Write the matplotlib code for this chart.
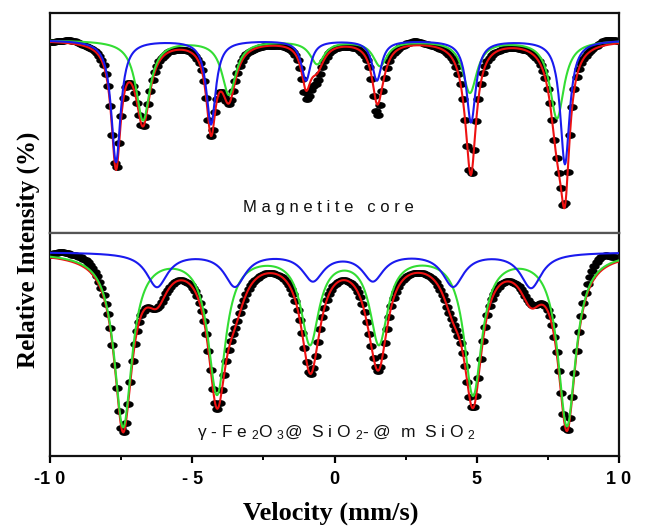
import numpy as np
import matplotlib
matplotlib.use('Agg')
import matplotlib.pyplot as plt

plt.rcParams['mathtext.fontset'] = 'custom'
plt.rcParams['mathtext.rm'] = 'Liberation Sans'
plt.rcParams['mathtext.it'] = 'Liberation Sans'
plt.rcParams['mathtext.bf'] = 'Liberation Sans:bold'

# ---------------- data (velocity mm/s, absorption depth %, HWHM mm/s) -------------
# Top panel: Magnetite core
top_blue_pos = [-7.68, -4.34, -1.00, 1.49, 4.80, 8.10]
top_blue_depth = [12.2, 8.4, 4.0, 4.0, 8.2, 12.4]
top_blue_hwhm = 0.20
top_green_pos = [-6.73, -3.71, -0.61, 1.60, 4.76, 7.82]
top_green_depth = [8.0, 5.4, 2.3, 2.5, 5.2, 7.8]
top_green_hwhm = 0.30
# measured-data deviations from the fit (centre, amplitude %, width)
top_dev_pos = [-9.3, -0.8, 1.5, 2.8, 9.6]
top_dev_amp = [0.3, -1.0, -1.1, 0.4, 0.5]
top_dev_w = [0.3, 0.25, 0.15, 0.3, 0.3]

# Bottom panel: gamma-Fe2O3@SiO2-@mSiO2
bot_green_pos = [-7.43, -4.13, -0.86, 1.56, 4.87, 8.17]
bot_green_depth = [17.3, 13.9, 8.8, 8.8, 14.0, 17.2]
bot_green_hwhm = 0.38
bot_blue_pos = [-6.24, -3.50, -0.76, 1.35, 4.17, 6.91]
bot_blue_depth = [3.4, 3.3, 2.7, 2.7, 3.3, 3.5]
bot_blue_hwhm = 0.45
bot_dev_pos = [-9.6, -8.8, 6.8, 9.3]
bot_dev_amp = [0.6, 0.8, 0.4, 1.4]
bot_dev_w = [0.3, 0.4, 0.3, 0.4]

baseline = 100.0
xticks = [-10, -5, 0, 5, 10]
xticklabels = ['-1 0', '- 5', '0', '5', '1 0']
x_label = 'Velocity (mm/s)'
y_label = 'Relative Intensity (%)'
top_label = 'M a g n e t i t e   c o r e'
bot_label = r'γ - F e $_{2}$O $_{3}$@  S i O $_{2}$- @  m  S i O $_{2}$'


def sextet(v, pos, depth, hwhm):
    out = np.zeros_like(v)
    for p, d in zip(pos, depth):
        out += d * hwhm ** 2 / ((v - p) ** 2 + hwhm ** 2)
    return out


def devs(v, pos, amp, w):
    out = np.zeros_like(v)
    for p, a, s in zip(pos, amp, w):
        out += a * np.exp(-0.5 * ((v - p) / s) ** 2)
    return out


v = np.linspace(-10, 10, 800)
vch = np.linspace(-10, 10, 256)

t = np.linspace(0, 2 * np.pi, 40)
ell = list(zip(np.cos(t), 0.6 * np.sin(t)))

fig = plt.figure(figsize=(6.46, 5.29), dpi=100)
L, W = 50 / 646, 569 / 646
ax1 = fig.add_axes([L, 1 - 233 / 529, W, 220 / 529])
ax2 = fig.add_axes([L, 1 - 456 / 529, W, 223 / 529])

red, green, blue = '#ee1111', '#33dd33', '#1a1aee'

panels = [
    (ax1, top_blue_pos, top_blue_depth, top_blue_hwhm,
     top_green_pos, top_green_depth, top_green_hwhm,
     top_dev_pos, top_dev_amp, top_dev_w, (80.7, 102.7)),
    (ax2, bot_blue_pos, bot_blue_depth, bot_blue_hwhm,
     bot_green_pos, bot_green_depth, bot_green_hwhm,
     bot_dev_pos, bot_dev_amp, bot_dev_w, (79.6, 101.9)),
]

for (ax, bp, bd, bw, gp, gd, gw, dp, da, dw, yl) in panels:
    b = sextet(v, bp, bd, bw)
    g = sextet(v, gp, gd, gw)
    data = baseline - sextet(vch, bp, bd, bw) - sextet(vch, gp, gd, gw) \
        + devs(vch, dp, da, dw)
    ax.plot(vch, data, linestyle='none', marker=ell, ms=6.5, color='black',
            zorder=2)
    ax.plot(v, baseline - b - g, color=red, lw=1.5, zorder=3)
    ax.plot(v, baseline - g, color=green, lw=1.5, zorder=4)
    ax.plot(v, baseline - b, color=blue, lw=1.5, zorder=5)
    ax.set_xlim(-10, 10)
    ax.set_ylim(*yl)
    ax.set_yticks([])
    for s in ax.spines.values():
        s.set_linewidth(1.6)
        s.set_color('#111111')

ax1.spines['bottom'].set_color('#555555')
ax2.spines['top'].set_color('#555555')
ax1.set_xticks([])

ax2.set_xticks(xticks)
ax2.set_xticklabels(xticklabels, fontsize=13, fontweight='bold',
                    family='Liberation Sans')
ax2.set_xticks([-7.5, -2.5, 2.5, 7.5], minor=True)
ax2.tick_params(axis='x', which='major', direction='out', length=5, width=1.6,
                pad=6)
ax2.tick_params(axis='x', which='minor', direction='out', length=3, width=1.4)

ax1.text(0.489, 0.118, top_label, transform=ax1.transAxes, ha='center',
         va='center', fontsize=12, family='Liberation Sans', color='#111111')
ax2.text(0.504, 0.104, bot_label, transform=ax2.transAxes, ha='center',
         va='center', fontsize=12.5, family='Liberation Sans', color='#111111')

fig.text(28 / 646, 1 - 250 / 529, y_label, rotation=90, ha='center',
         va='center', fontsize=18, fontweight='bold', family='Liberation Serif')
fig.text(331 / 646, 1 - 513 / 529, x_label, ha='center', va='center',
         fontsize=19, fontweight='bold', family='Liberation Serif')

fig.savefig('out.png', dpi=100, facecolor='white')
